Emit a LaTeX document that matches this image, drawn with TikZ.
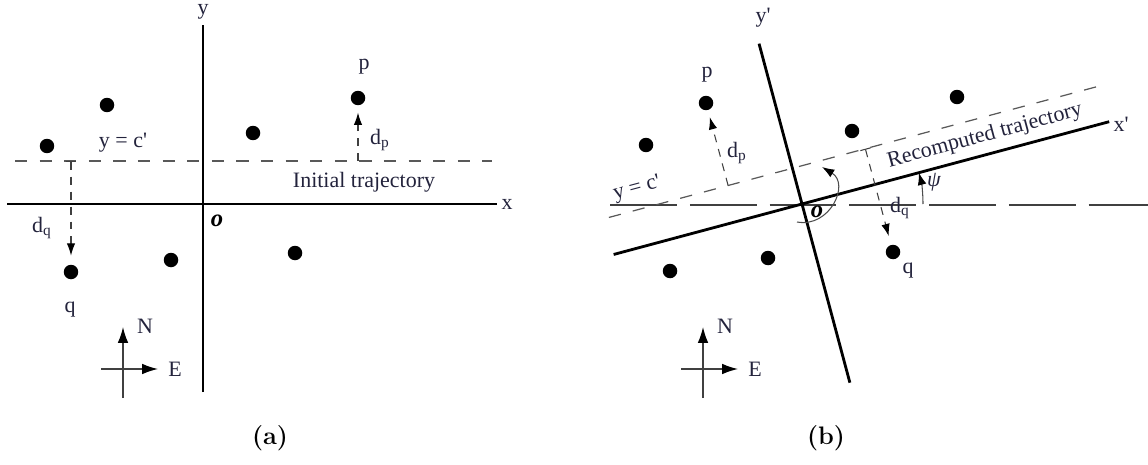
\documentclass[tikz,border=0pt]{standalone}
\usepackage{fontspec}
\newfontfamily\tms{Liberation Serif}
\usetikzlibrary{arrows.meta,calc,positioning}
\definecolor{labcol}{RGB}{35,35,60}
\tikzset{
  ptdot/.style={circle,fill=black,inner sep=0pt,minimum size=0.29cm},
  axisln/.style={line width=1.6pt,black},
  trajln/.style={line width=0.7pt,black!65,dash pattern=on 7pt off 7pt},
  horzln/.style={line width=0.75pt,black!75,dash pattern=on 38pt off 7.4pt},
  distarr/.style={line width=0.6pt,black!75,dash pattern=on 4.5pt off 4pt,
    -{Latex[length=7pt,width=4.8pt,black]}},
  tdistarr/.style={distarr,{Bar[width=6pt]}-{Latex[length=7pt,width=4.8pt,black]}},
  comparr/.style={line width=0.8pt,black!75,-{Latex[length=9pt,width=6pt,black]}},
  anglearr/.style={line width=0.6pt,black!70,-{Latex[length=7pt,width=5pt,black]}},
  lbl/.style={font=\tms\fontsize{12.5}{14}\selectfont,text=labcol,inner sep=1pt},
  origlbl/.style={font=\tms\fontsize{14}{16}\selectfont\bfseries\itshape,inner sep=1pt},
  capl/.style={font=\Large\bfseries},
}
\begin{document}
\begin{tikzpicture}[x=0.02cm,y=0.02cm]
  \useasboundingbox (0,0) rectangle (1148,464);
  % ---- (a) initial frame
  \coordinate (oa) at (203,260);
  \coordinate (yatop) at (203,439);
  \coordinate (yabot) at (203,72);
  \coordinate (xaleft) at (7,260);
  \coordinate (xaright) at (497,260);
  \coordinate (ca1) at (15,303);
  \coordinate (ca2) at (492,303);
  \draw[trajln] (ca1) -- (ca2);
  \draw[axisln] (yabot) -- (yatop);
  \draw[axisln] (xaleft) -- (xaright);
  \node[lbl] (ya) at (203,452) {y};
  \node[lbl] (xa) at (507,260) {x};
  \node[origlbl] (ola) at (217,243) {o};
  \node[lbl] (cla) at (123,321) {y = c'};
  \node[lbl] (tra) at (364,282) {Initial trajectory};
  \node[ptdot] (pa) at (358,366) {};
  \node[ptdot] (qa) at (71,192) {};
  \node[ptdot] (a1) at (107,359) {};
  \node[ptdot] (a2) at (47,318) {};
  \node[ptdot] (a3) at (253,331) {};
  \node[ptdot] (a4) at (171,204) {};
  \node[ptdot] (a5) at (295,211) {};
  \node[lbl] (lpa) at (364,397) {p};
  \node[lbl] (lqa) at (70,154) {q};
  \coordinate (fpa) at (pa |- ca1);
  \coordinate (fqa) at (qa |- ca1);
  \draw[distarr,shorten >=4pt] (fpa) -- (pa);
  \draw[tdistarr,shorten >=5pt] (fqa) -- (qa);
  \node[lbl] (dpa) at (380,324) {d\textsubscript{p}};
  \node[lbl] (dqa) at (42,236) {d\textsubscript{q}};
  \node[capl] (capa) at (270,26) {(a)};
  % ---- (b) rotated frame
  \coordinate (ob) at (802,260);
  \coordinate (ybtop) at ($(ob)+(105:166)$);
  \coordinate (ybbot) at ($(ob)+(285:185)$);
  \coordinate (xbright) at ($(ob)+(15:318)$);
  \coordinate (xbleft) at ($(ob)+(195:195)$);
  \coordinate (cbase) at ($(ob)+(105:37)$);
  \coordinate (cb1) at ($(cbase)+(195:190)$);
  \coordinate (cb2) at ($(cbase)+(15:320)$);
  \coordinate (hb1) at (610,259);
  \coordinate (hb2) at (1148,259);
  \draw[horzln] (hb1) -- (hb2);
  \draw[trajln] (cb1) -- (cb2);
  \draw[axisln] (ybbot) -- (ybtop);
  \draw[axisln] (xbleft) -- (xbright);
  \node[lbl] (yb) at (763,446) {y'};
  \node[lbl] (xb) at (1121,340) {x'};
  \node[origlbl] (olb) at (817,252) {o};
  \node[lbl,rotate=15] (clb) at (637,275) {y = c'};
  \node[lbl,rotate=15] (trb) at (985,328) {Recomputed trajectory};
  \node[ptdot] (pb) at (706,361) {};
  \node[ptdot] (qb) at (893,212) {};
  \node[ptdot] (b1) at (646,319) {};
  \node[ptdot] (b2) at (852,333) {};
  \node[ptdot] (b3) at (957,367) {};
  \node[ptdot] (b4) at (670,193) {};
  \node[ptdot] (b5) at (768,206) {};
  \node[lbl] (lpb) at (707,389) {p};
  \node[lbl] (lqb) at (908,193) {q};
  \coordinate (fpb) at ($(cb1)!(pb)!(cb2)$);
  \coordinate (fqb) at ($(cb1)!(qb)!(cb2)$);
  \draw[distarr,shorten >=4pt] (fpb) -- (pb);
  \draw[tdistarr,shorten >=5pt] (fqb) -- (qb);
  \node[lbl] (dpb) at (737,311) {d\textsubscript{p}};
  \node[lbl] (dqb) at (900,256) {d\textsubscript{q}};
  % heading angle
  \coordinate (psi0) at ($(ob)+(0:121)$);
  \draw[anglearr] (psi0) arc[start angle=0,end angle=15,radius=121];
  \node[lbl,font=\tms\itshape\fontsize{12.5}{14}\selectfont] (psib) at (934,282) {ψ};
  \coordinate (rot0) at (797,242);
  \coordinate (rot1) at (822,297);
  \draw[anglearr] (rot0) .. controls (830,236) and (850,280) .. (rot1);
  \node[capl] (capb) at (826,26) {(b)};
  % ---- compasses
  \foreach \s/\dx in {a/0,b/580}{
    \coordinate (ns\s) at (123+\dx,66);
    \coordinate (nn\s) at (123+\dx,137);
    \coordinate (ew\s) at (101+\dx,95);
    \coordinate (ee\s) at (158+\dx,95);
    \draw[comparr] (ns\s) -- (nn\s);
    \draw[comparr] (ew\s) -- (ee\s);
    \node[lbl] (nl\s) at (145+\dx,138) {N};
    \node[lbl] (el\s) at (175+\dx,95) {E};
  }
\end{tikzpicture}
\end{document}
